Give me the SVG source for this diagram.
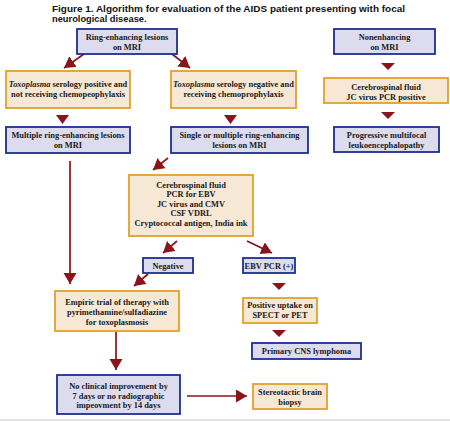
<svg xmlns="http://www.w3.org/2000/svg" width="450" height="421" viewBox="0 0 450 421">
<style>
.title{font-family:"Liberation Sans",Arial,sans-serif;font-weight:bold;font-size:9.3px;fill:#111}
.t{font-family:"Liberation Serif","Times New Roman",serif;font-weight:bold;font-size:8.4px;fill:#1a1a1a;text-anchor:middle}
.blue{fill:#dcdcee;stroke:#1c2f8f;stroke-width:1.8}
.orng{fill:#f7e8d6;stroke:#dfa12a;stroke-width:1.8}
.ln{stroke:#8a1418;stroke-width:1.7;fill:none}
.tri{fill:#8a1418}
.it{font-style:italic}
</style>
<defs>
<marker id="ah" markerUnits="userSpaceOnUse" markerWidth="14" markerHeight="14" refX="11" refY="6.5" orient="auto">
<path d="M0,0 L11,6.5 L0,13 Z" fill="#8a1418"/>
</marker>
</defs>
<rect width="450" height="421" fill="#fff"/>
<line x1="0" y1="420" x2="450" y2="420" stroke="#c8c8c8" stroke-width="1"/>
<text class="title" x="52" y="11.5" textLength="353" lengthAdjust="spacingAndGlyphs">Figure 1. Algorithm for evaluation of the AIDS patient presenting with focal</text>
<text class="title" x="52" y="21.5">neurological disease.</text>

<g id="connectors">
<line class="ln" x1="84" y1="54" x2="64" y2="68" marker-end="url(#ah)"/>
<line class="ln" x1="172" y1="54" x2="190" y2="68" marker-end="url(#ah)"/>
<polygon class="tri" points="56,115 69,115 62.5,124"/>
<polygon class="tri" points="224,115 237,115 230.5,124"/>
<polygon class="tri" points="381,63 395,63 388,70"/>
<polygon class="tri" points="381,112 395,112 388,119"/>
<line class="ln" x1="168" y1="158" x2="153" y2="170" marker-end="url(#ah)"/>
<line class="ln" x1="70" y1="161" x2="70" y2="284" marker-end="url(#ah)"/>
<line class="ln" x1="177" y1="241" x2="163" y2="253" marker-end="url(#ah)"/>
<line class="ln" x1="247" y1="241" x2="272" y2="253" marker-end="url(#ah)"/>
<line class="ln" x1="148" y1="274" x2="134" y2="286" marker-end="url(#ah)"/>
<polygon class="tri" points="272,283 286,283 279,290"/>
<polygon class="tri" points="272,330 286,330 279,337"/>
<line class="ln" x1="116" y1="332" x2="116" y2="370" marker-end="url(#ah)"/>
<line class="ln" x1="187" y1="396" x2="247" y2="396" marker-end="url(#ah)"/>
</g>

<g id="ring">
<rect class="blue" x="77" y="29" width="100" height="25"/>
<text class="t" x="127" y="40">Ring-enhancing lesions</text>
<text class="t" x="127" y="49.5">on MRI</text>
</g>
<g id="nonenh">
<rect class="blue" x="334" y="29" width="101" height="25"/>
<text class="t" x="384.5" y="40">Nonenhancing</text>
<text class="t" x="384.5" y="49.5">on MRI</text>
</g>
<g id="toxopos">
<rect class="orng" x="6" y="71" width="124" height="37"/>
<text class="t" x="68" y="87"><tspan class="it">Toxoplasma</tspan> serology positive and</text>
<text class="t" x="68" y="97">not receiving chemopeophylaxis</text>
</g>
<g id="toxoneg">
<rect class="orng" x="171" y="71" width="125" height="37"/>
<text class="t" x="233.5" y="87"><tspan class="it">Toxoplasma</tspan> serology negative and</text>
<text class="t" x="233.5" y="97">receiving chemoprophylaxis</text>
</g>
<g id="multiple">
<rect class="blue" x="6" y="127" width="124" height="26"/>
<text class="t" x="68" y="138">Multiple ring-enhancing lesions</text>
<text class="t" x="68" y="147.5">on MRI</text>
</g>
<g id="single">
<rect class="blue" x="171" y="127" width="137" height="26"/>
<text class="t" x="239.5" y="138">Single or multiple ring-enhancing</text>
<text class="t" x="239.5" y="147.5">lesions on MRI</text>
</g>
<g id="csfjc">
<rect class="orng" x="324" y="78" width="124" height="25"/>
<text class="t" x="386" y="90">Cerebrospinal fluid</text>
<text class="t" x="386" y="100">JC virus PCR positive</text>
</g>
<g id="pml">
<rect class="blue" x="334" y="127" width="105" height="25"/>
<text class="t" x="386.5" y="138">Progressive multifocal</text>
<text class="t" x="386.5" y="148">leukoencephalopathy</text>
</g>
<g id="csf">
<rect class="orng" x="129" y="175" width="124" height="61"/>
<text class="t" x="191" y="188">Cerebrospinal fluid</text>
<text class="t" x="191" y="197">PCR for EBV</text>
<text class="t" x="191" y="206.5">JC virus and CMV</text>
<text class="t" x="191" y="216">CSF VDRL</text>
<text class="t" x="191" y="226">Cryptococcal antigen, India ink</text>
</g>
<g id="negative">
<rect class="blue" x="143" y="258" width="50" height="15"/>
<text class="t" x="168" y="269">Negative</text>
</g>
<g id="ebv">
<rect class="blue" x="243" y="258" width="52" height="15"/>
<text class="t" x="269" y="269">EBV PCR (+)</text>
</g>
<g id="empiric">
<rect class="orng" x="55" y="291" width="124" height="40"/>
<text class="t" x="117" y="305">Empiric trial of therapy with</text>
<text class="t" x="117" y="315">pyrimethamine/sulfadiazine</text>
<text class="t" x="117" y="325">for toxoplasmosis</text>
</g>
<g id="uptake">
<rect class="orng" x="243" y="298" width="74" height="25"/>
<text class="t" x="280" y="308">Positive uptake on</text>
<text class="t" x="280" y="318">SPECT or PET</text>
</g>
<g id="lymphoma">
<rect class="blue" x="252" y="343" width="109" height="16"/>
<text class="t" x="306.5" y="354">Primary CNS lymphoma</text>
</g>
<g id="noimprove">
<rect class="blue" x="57" y="375" width="123" height="39"/>
<text class="t" x="118.5" y="389">No clinical improvement by</text>
<text class="t" x="118.5" y="398.5">7 days or no radiographic</text>
<text class="t" x="118.5" y="408">impeovment by 14 days</text>
</g>
<g id="biopsy">
<rect class="orng" x="253" y="384" width="74" height="25"/>
<text class="t" x="290" y="395">Stereotactic brain</text>
<text class="t" x="290" y="405">biopsy</text>
</g>
</svg>
